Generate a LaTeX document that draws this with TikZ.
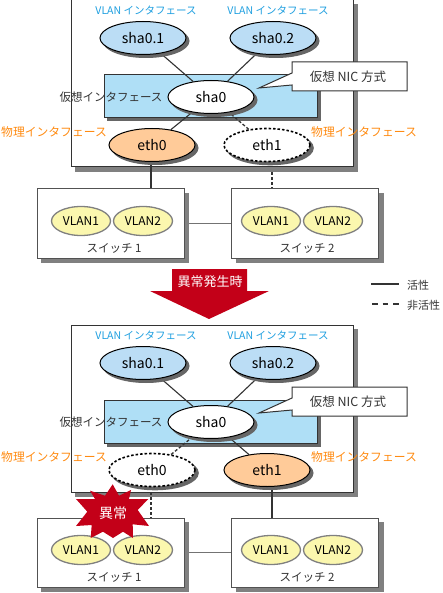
\documentclass[tikz,border=0pt]{standalone}
\usepackage{fontspec}
\setmainfont{Noto Sans CJK JP}
\usetikzlibrary{shapes.geometric}
\definecolor{vlanblue}{HTML}{1E9FE0}
\definecolor{phyorange}{HTML}{FF8A10}
\definecolor{shablue}{HTML}{BBDDF5}
\definecolor{rectblue}{HTML}{AFDFF6}
\definecolor{ethorange}{HTML}{FFCB99}
\definecolor{vlanyellow}{HTML}{FBF7AE}
\definecolor{alarmred}{HTML}{C30018}
\definecolor{linedark}{HTML}{333333}
\definecolor{shadowgray}{HTML}{808080}
\pgfdeclarelayer{boxes}
\pgfdeclarelayer{wires}
\pgfsetlayers{boxes,wires,main}
\tikzset{
  boxshadow/.style={preaction={draw=shadowgray,solid,fill=shadowgray,transform canvas={xshift=4.5pt,yshift=-4.5pt}}},
  ovalshadow/.style={preaction={draw=shadowgray!80!black,solid,fill=shadowgray!80!black,transform canvas={xshift=3pt,yshift=-3pt}}},
  hostbox/.style={draw=linedark,fill=white,line width=1pt,minimum width=282pt,minimum height=167pt,boxshadow},
  groupbox/.style={draw=linedark,fill=rectblue,line width=1pt,minimum width=213pt,minimum height=43pt,ovalshadow},
  switchbox/.style={draw=linedark!85,fill=white,line width=1pt,minimum width=147pt,minimum height=69pt,boxshadow},
  oval/.style={ellipse,draw=black,line width=1pt,minimum width=86pt,minimum height=33pt,inner sep=0pt,font=\fontsize{14}{14}\selectfont},
  shaoval/.style={oval,fill=shablue,ovalshadow},
  virtoval/.style={oval,fill=white,ovalshadow},
  ethoval/.style={oval,fill=ethorange,ovalshadow},
  downoval/.style={oval,fill=white,line width=1.6pt,dash pattern=on 2.5pt off 2pt,ovalshadow},
  vlanoval/.style={ellipse,draw=gray,fill=vlanyellow,line width=1.3pt,minimum width=59pt,minimum height=29pt,inner sep=0pt,font=\fontsize{12}{12}\selectfont},
  vlanlabel/.style={text=vlanblue,font=\fontsize{10.5}{10.5}\selectfont},
  phylabel/.style={text=phyorange,font=\fontsize{11.8}{11.8}\selectfont},
  plainlabel/.style={text=linedark,font=\fontsize{11.5}{11.5}\selectfont},
  calloutbox/.style={draw=linedark,fill=white,line width=1pt},
  wire/.style={draw=linedark,line width=1.1pt},
  stub/.style={draw=linedark,line width=1.8pt},
  downwire/.style={draw=linedark,line width=1.7pt,dash pattern=on 3pt off 2pt},
  trunk/.style={draw=gray!90!black,line width=1.5pt},
}
\begin{document}
\begin{tikzpicture}[x=1pt,y=-1pt]
  \useasboundingbox (0,0) rectangle (443,593);
  % Switches, before the fault
  \node[switchbox] (swa) at (110.5,223.5) {};
  \node[switchbox] (swb) at (305,223.5) {};
  \node[vlanoval] (vlana1) at (81,221) {VLAN1};
  \node[vlanoval] (vlana2) at (143,221) {VLAN2};
  \node[vlanoval] (vlanb1) at (271,221) {VLAN1};
  \node[vlanoval] (vlanb2) at (333,221) {VLAN2};
  \node[plainlabel] (swalabel) at (114,248) {スイッチ 1};
  \node[plainlabel] (swblabel) at (307,248) {スイッチ 2};
  % Switches, after the fault
  \node[switchbox] (swc) at (110.5,552.5) {};
  \node[switchbox] (swd) at (305,552.5) {};
  \node[vlanoval] (vlanc1) at (81,550) {VLAN1};
  \node[vlanoval] (vlanc2) at (143,550) {VLAN2};
  \node[vlanoval] (vland1) at (271,550) {VLAN1};
  \node[vlanoval] (vland2) at (333,550) {VLAN2};
  \node[plainlabel] (swclabel) at (114,577) {スイッチ 1};
  \node[plainlabel] (swdlabel) at (307,577) {スイッチ 2};
  % Host frames
  \begin{pgfonlayer}{boxes}
    \node[hostbox] (hosta) at (212,83.5) {};
    \node[hostbox] (hostb) at (212,408.5) {};
    \node[groupbox] (groupa) at (210.5,96.5) {};
    \node[groupbox] (groupb) at (210.5,421.5) {};
  \end{pgfonlayer}
  % Upper host
  \node[vlanlabel] (vlantxta) at (146,10) {VLAN インタフェース};
  \node[vlanlabel] (vlantxtb) at (278,10) {VLAN インタフェース};
  \node[shaoval] (shaa1) at (143,38) {sha0.1};
  \node[shaoval] (shaa2) at (273,38) {sha0.2};
  \node[virtoval] (shaa) at (211,97) {sha0};
  \node[ethoval] (etha0) at (152,145) {eth0};
  \node[downoval] (etha1) at (267,145) {eth1};
  \node[plainlabel,anchor=east] (virttxta) at (166,97) {仮想インタフェース};
  \node[phylabel,anchor=west,inner xsep=0pt] (phytxta) at (1,132) {物理インタフェース};
  \node[phylabel,anchor=west,inner xsep=0pt] (phytxtb) at (311,132) {物理インタフェース};
  % Callout
  \filldraw[calloutbox] (292,62) -- (407,62) -- (407,91) -- (292,91) -- (292,85) -- (259,88) -- (292,73) -- cycle;
  \node[plainlabel,font=\fontsize{12.5}{12.5}\selectfont] (nictxta) at (348,77) {仮想 NIC 方式};
  % Lower host
  \node[vlanlabel] (vlantxtc) at (146,335) {VLAN インタフェース};
  \node[vlanlabel] (vlantxtd) at (278,335) {VLAN インタフェース};
  \node[shaoval] (shab1) at (143,363) {sha0.1};
  \node[shaoval] (shab2) at (273,363) {sha0.2};
  \node[virtoval] (shab) at (211,422) {sha0};
  \node[downoval] (ethb0) at (152,470) {eth0};
  \node[ethoval] (ethb1) at (267,470) {eth1};
  \node[plainlabel,anchor=east] (virttxtb) at (166,422) {仮想インタフェース};
  \node[phylabel,anchor=west,inner xsep=0pt] (phytxtc) at (1,457) {物理インタフェース};
  \node[phylabel,anchor=west,inner xsep=0pt] (phytxtd) at (311,457) {物理インタフェース};
  \filldraw[calloutbox] (292,387) -- (407,387) -- (407,416) -- (292,416) -- (292,410) -- (259,413) -- (292,398) -- cycle;
  \node[plainlabel,font=\fontsize{12.5}{12.5}\selectfont] (nictxtb) at (348,402) {仮想 NIC 方式};
  % Connectors
  \coordinate (dropa) at (151,160);
  \coordinate (dropb) at (272,172);
  \coordinate (dropc) at (151,492);
  \coordinate (dropd) at (272,485);
  \begin{pgfonlayer}{wires}
    \draw[wire] (shaa1) -- (shaa);
    \draw[wire] (shaa2) -- (shaa);
    \draw[wire] (etha0) -- (shaa);
    \draw[downwire,line width=1.3pt] (etha1) -- (shaa);
    \draw[stub] (dropa) -- (dropa |- swa.north);
    \draw[downwire] (dropb) -- (dropb |- swb.north);
    \draw[trunk] (swa) -- (swb);
    \draw[wire] (shab1) -- (shab);
    \draw[wire] (shab2) -- (shab);
    \draw[downwire,line width=1.3pt] (ethb0) -- (shab);
    \draw[wire] (ethb1) -- (shab);
    \draw[downwire] (dropc) -- (dropc |- swc.north);
    \draw[stub] (dropd) -- (dropd |- swd.north);
    \draw[trunk] (swc) -- (swd);
  \end{pgfonlayer}
  % Fault arrow
  \fill[alarmred] (172,269) -- (247,269) -- (247,291) -- (269,291) -- (209,319) -- (150,291) -- (172,291) -- cycle;
  \node[text=white,font=\fontsize{13}{13}\selectfont] (faulttxt) at (210,282) {異常発生時};
  % Legend
  \coordinate (keya) at (371,284);
  \coordinate (keyaend) at (399,284);
  \coordinate (keyb) at (372,304);
  \coordinate (keybend) at (401,304);
  \node[plainlabel,anchor=west,inner xsep=0pt,font=\fontsize{11}{11}\selectfont] (activetxt) at (407,285) {活性};
  \node[plainlabel,anchor=west,inner xsep=0pt,font=\fontsize{11}{11}\selectfont] (standbytxt) at (407,305) {非活性};
  \draw[stub,line width=1.4pt] (keya) -- (keyaend);
  \draw[downwire,line width=1.4pt,dash pattern=on 5.5pt off 5pt] (keyb) -- (keybend);
  % Burst
  \fill[alarmred] (112.7,484.3) -- (119,495.7) -- (131,490) -- (129,499) -- (148.3,499) -- (137.7,510) -- (149,526) -- (132.7,524.3) -- (133,538) -- (123,531.7) -- (113,538) -- (103,531.7) -- (90.7,538) -- (91.7,525) -- (76,526) -- (87.3,511.7) -- (76,499) -- (95,499) -- (90,490.7) -- (105,495.7) -- cycle;
  \node[text=white,font=\fontsize{14}{14}\selectfont] (burst) at (113,513) {異常};
\end{tikzpicture}
\end{document}
